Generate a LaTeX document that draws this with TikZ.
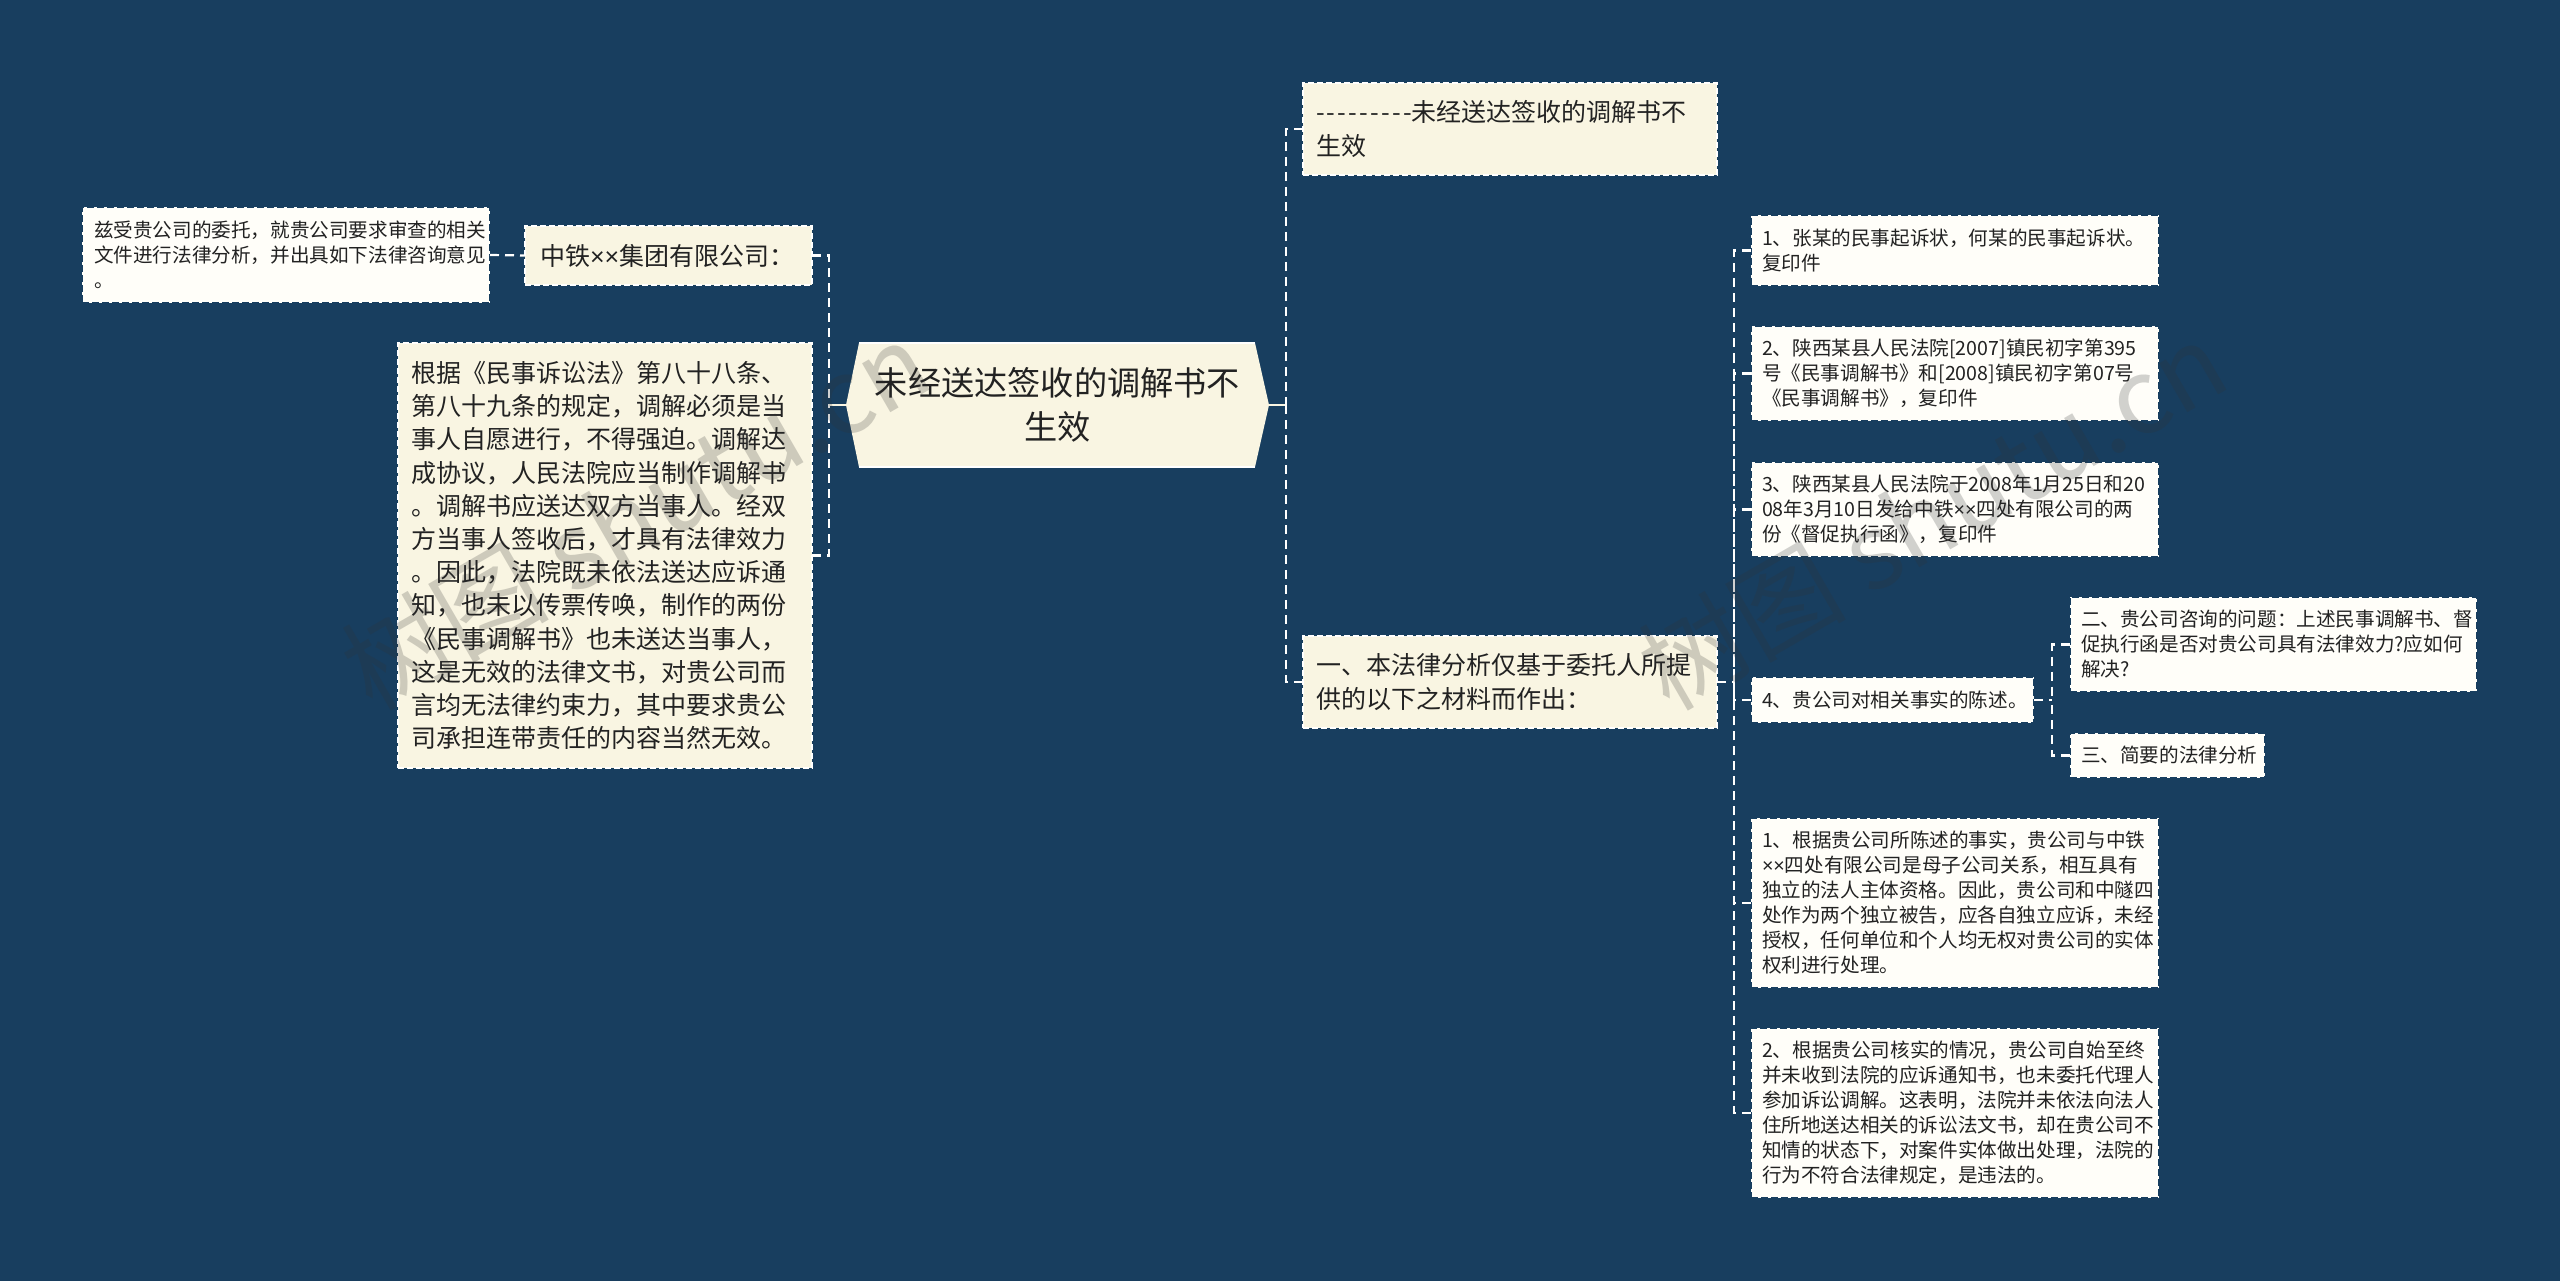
\documentclass[tikz,border=0pt]{standalone}
\usepackage{fontspec}
\setmainfont{Noto Sans CJK SC}
\newfontfamily\latinf{Liberation Sans}
\newcommand{\tms}{{\latinf ×}}
\newcommand{\hy}{-\kern2.2pt}
\definecolor{bg}{RGB}{24,62,95}
\definecolor{cream}{RGB}{249,245,226}
\definecolor{paper}{RGB}{255,254,249}
\definecolor{ink}{RGB}{34,34,34}
\definecolor{wm}{RGB}{50,50,50}
\tikzset{
  x=1pt,y=-1pt,
  boxbase/.style={anchor=north west,inner sep=0pt,outer sep=0pt,align=left,text=ink,line width=1.4pt},
  bigbox/.style={boxbase,draw=white,dash pattern=on 6pt off 3pt,fill=cream,font=\fontsize{25}{33.2}\selectfont},
  smallbox/.style={boxbase,draw=bg,dash pattern=on 7pt off 3pt,fill=paper,font=\fontsize{19.6}{25}\selectfont},
  conn/.style={draw=white,line width=2.2pt,dash pattern=on 9pt off 6pt},
  solidlink/.style={draw=cream,line width=2.6pt},
  watermark/.style={text=wm,opacity=0.22,rotate=30,font=\fontsize{104}{104}\selectfont,inner sep=0pt}
}
\newcommand{\bx}[7]{\node[#1,minimum width=#5,minimum height=#6,text width=#5-2*#4] (#2) at #3 {#7};}
\begin{document}
\begin{tikzpicture}
\useasboundingbox[fill=bg] (0,0) rectangle (2560,1281);
% root
\fill[cream] (859,343) -- (1255,343) -- (1269,405) -- (1255,467) -- (859,467) -- (846,405) -- cycle;
\draw[white,line width=1.2pt] (859,343) -- (1255,343) (859,467) -- (1255,467);
\node[minimum width=423pt,minimum height=124pt,inner sep=0pt,outer sep=0pt,align=center,text=ink,
  font=\fontsize{33.2}{44}\selectfont] (root) at (1057.5,405) {未经送达签收的调解书不\\生效};
% left branch
\bx{bigbox}{B}{(525,226)}{15pt}{287pt}{59pt}{中铁\tms\tms 集团有限公司：}
\bx{smallbox}{A}{(82,207)}{12pt}{408pt}{96pt}{兹受贵公司的委托，就贵公司要求审查的相关\\文件进行法律分析，并出具如下法律咨询意见\\。}
\bx{bigbox}{C}{(398,343)}{13pt}{414pt}{425pt}{根据《民事诉讼法》第八十八条、\\第八十九条的规定，调解必须是当\\事人自愿进行，不得强迫。调解达\\成协议，人民法院应当制作调解书\\。调解书应送达双方当事人。经双\\方当事人签收后，才具有法律效力\\。因此，法院既未依法送达应诉通\\知，也未以传票传唤，制作的两份\\《民事调解书》也未送达当事人，\\这是无效的法律文书，对贵公司而\\言均无法律约束力，其中要求贵公\\司承担连带责任的内容当然无效。}
% right branch
\bx{bigbox}{D}{(1303,83)}{13pt}{414pt}{92pt}{\hy\hy\hy\hy\hy\hy\hy\hy-未经送达签收的调解书不\\生效}
\bx{bigbox}{E}{(1303,636)}{13pt}{414pt}{92pt}{一、本法律分析仅基于委托人所提\\供的以下之材料而作出：}
\bx{smallbox}{F}{(1751,215)}{11pt}{408pt}{71pt}{1、张某的民事起诉状，何某的民事起诉状。\\复印件}
\bx{smallbox}{G}{(1751,326)}{11pt}{408pt}{95pt}{2、陕西某县人民法院[2007]镇民初字第395\\号《民事调解书》和[2008]镇民初字第07号\\《民事调解书》，复印件}
\bx{smallbox}{H}{(1751,462)}{11pt}{408pt}{95pt}{3、陕西某县人民法院于2008年1月25日和20\\08年3月10日发给中铁\tms\tms 四处有限公司的两\\份《督促执行函》，复印件}
\bx{smallbox}{I}{(1751,677)}{11pt}{283pt}{46pt}{4、贵公司对相关事实的陈述。}
\bx{smallbox}{J}{(2070,597)}{11pt}{407pt}{95pt}{二、贵公司咨询的问题：上述民事调解书、督\\促执行函是否对贵公司具有法律效力?应如何\\解决?}
\bx{smallbox}{K}{(2070,733)}{11pt}{195pt}{45pt}{三、简要的法律分析}
\bx{smallbox}{L}{(1751,818)}{11pt}{408pt}{170pt}{1、根据贵公司所陈述的事实，贵公司与中铁\\\tms\tms 四处有限公司是母子公司关系，相互具有\\独立的法人主体资格。因此，贵公司和中隧四\\处作为两个独立被告，应各自独立应诉，未经\\授权，任何单位和个人均无权对贵公司的实体\\权利进行处理。}
\bx{smallbox}{M}{(1751,1028)}{11pt}{408pt}{170pt}{2、根据贵公司核实的情况，贵公司自始至终\\并未收到法院的应诉通知书，也未委托代理人\\参加诉讼调解。这表明，法院并未依法向法人\\住所地送达相关的诉讼法文书，却在贵公司不\\知情的状态下，对案件实体做出处理，法院的\\行为不符合法律规定，是违法的。}
% connector junctions
\coordinate (tl) at (829,405);
\coordinate (tr) at (1286,405);
\coordinate (te) at (1734,682);
\coordinate (ti) at (2052,700);
% connectors
\draw[conn] (A.east) -- (B.west);
\draw[conn] (B.east) -| (tl);
\draw[conn] (C.east) -| (tl);
\draw[solidlink] (root.west) -- (tl);
\draw[solidlink] (root.east) -- (tr);
\draw[conn] (D.west) -| (tr);
\draw[conn] (E.west) -| (tr);
\draw[conn] (E.east) -- (te);
\draw[conn] (F.west) -| (te);
\draw[conn] (G.west) -| (te);
\draw[conn] (H.west) -| (te);
\draw[conn] (I.west) -| (te);
\draw[conn] (L.west) -| (te);
\draw[conn] (M.west) -| (te);
\draw[conn] (I.east) -- (ti);
\draw[conn] (J.west) -| (ti);
\draw[conn] (K.west) -| (ti);
% watermarks
\node[watermark] (w1) at (635,515) {树图 shutu.cn};
\node[watermark] (w2) at (1932,515) {树图 shutu.cn};
\end{tikzpicture}
\end{document}
